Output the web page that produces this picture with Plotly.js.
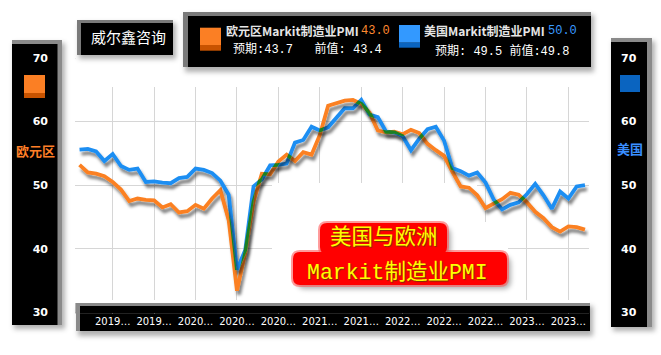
<!DOCTYPE html>
<html><head><meta charset="utf-8">
<script src="https://cdn.plot.ly/plotly-3.0.1.min.js"></script>
<style>
html,body{margin:0;padding:0;background:#fff;}
#chart{width:661px;height:355px;}
.scatterlayer .trace{filter:url(#ds);}
.scatterlayer .trace:nth-of-type(2){mix-blend-mode:darken;}
</style></head><body>
<svg width="0" height="0" style="position:absolute">
<defs>
<filter id="ds" x="-10%" y="-10%" width="120%" height="130%">
<feDropShadow dx="2" dy="4" stdDeviation="1.6" flood-color="#000" flood-opacity="0.5"/>
</filter>
<filter id="blur" x="-50%" y="-50%" width="200%" height="200%"><feGaussianBlur stdDeviation="2.5"/></filter>
</defs></svg>
<div id="chart"></div>
<script>
// ---------------- data ----------------
const months = [
 '2018-09','2018-10','2018-11','2018-12',
 '2019-01','2019-02','2019-03','2019-04','2019-05','2019-06','2019-07','2019-08','2019-09','2019-10','2019-11','2019-12',
 '2020-01','2020-02','2020-03','2020-04','2020-05','2020-06','2020-07','2020-08','2020-09','2020-10','2020-11','2020-12',
 '2021-01','2021-02','2021-03','2021-04','2021-05','2021-06','2021-07','2021-08','2021-09','2021-10','2021-11','2021-12',
 '2022-01','2022-02','2022-03','2022-04','2022-05','2022-06','2022-07','2022-08','2022-09','2022-10','2022-11','2022-12',
 '2023-01','2023-02','2023-03','2023-04','2023-05','2023-06','2023-07','2023-08','2023-09','2023-10'];
const euroPMI = [53.2, 52.0, 51.8, 51.4,
 50.5, 49.3, 47.5, 47.9, 47.7, 47.6, 46.5, 47.0, 45.7, 45.9, 46.9, 46.3,
 47.9, 49.2, 44.5, 33.4, 39.4, 47.4, 51.8, 51.7, 53.7, 54.8, 53.8, 55.2,
 54.8, 57.9, 62.5, 62.9, 63.3, 63.4, 62.8, 61.4, 58.6, 58.3, 58.4, 58.0,
 58.7, 58.2, 56.5, 55.5, 54.6, 52.1, 49.8, 49.6, 48.4, 46.4, 47.1, 47.8,
 48.8, 48.5, 47.3, 45.8, 44.8, 43.4, 42.7, 43.5, 43.4, 43.0];
const usPMI = [55.6, 55.7, 55.3, 53.8,
 54.9, 53.0, 52.4, 52.6, 50.5, 50.6, 50.4, 50.3, 51.1, 51.3, 52.6, 52.4,
 51.9, 50.7, 48.5, 36.7, 39.8, 49.8, 50.9, 53.1, 53.2, 53.4, 56.7, 57.1,
 59.2, 58.6, 59.1, 60.5, 62.1, 62.1, 63.4, 61.1, 60.7, 58.4, 58.3, 57.7,
 55.5, 57.3, 58.8, 59.2, 57.0, 52.7, 52.2, 51.5, 52.0, 50.4, 47.7, 46.2,
 46.9, 47.3, 48.6, 50.2, 48.4, 46.3, 49.0, 47.9, 49.8, 50.0];
const gridMonths = ['2019-01','2019-06','2019-11','2020-04','2020-09','2021-02','2021-07','2021-12','2022-05','2022-10','2023-03','2023-08'];
const xTickLabels = ['2019…','2019…','2020…','2020…','2020…','2021…','2021…','2022…','2022…','2022…','2023…','2023…'];
const yTicks = [30, 40, 50, 60, 70];
const euroName = '欧元区Markit制造业PMI', usName = '美国Markit制造业PMI';
const euroLatest = '43.0', usLatest = '50.0';
const euroSub = '预期:43.7   前值: 43.4', usSub = '预期: 49.5 前值:49.8';
const captionTop = '美国与欧洲';
const captionBottom = 'Markit<span style="font-family:Noto Sans CJK SC">制造业</span>PMI';

// ---------------- geometry helpers ----------------
const W = 661, H = 355;
const X = p => p / W, Y = p => 1 - p / H;
const XD = [75.4, 589.1];          // x domain in px
const YD = [56.73, 313.57];        // y domain in px (top, bottom)
const YR = [29.8, 70.2];
const XR = [-0.5, 61.5];
const idx = px => XR[0] + (px - XD[0]) / (XD[1] - XD[0]) * (XR[1] - XR[0]);
const val = py => YR[0] + (YD[1] - py) / (YD[1] - YD[0]) * (YR[1] - YR[0]);

const ORANGE = '#fb8020', BLUE = '#1e8ef2';

function rect(x0, y0, x1, y1, color, layer) {
  return {type:'rect', xref:'paper', yref:'paper', x0:X(x0), x1:X(x1), y0:Y(y1), y1:Y(y0),
          fillcolor:color, line:{width:0}, layer:layer || 'below'};
}
function drect(x0, y0, x1, y1, color) {
  return {type:'rect', xref:'x', yref:'y', x0:idx(x0), x1:idx(x1), y0:val(y1), y1:val(y0),
          fillcolor:color, line:{width:0}, layer:'between'};
}
function rrect(x0, y0, x1, y1, r, color, layer) {
  const p = (x, y) => X(x).toFixed(5) + ',' + Y(y).toFixed(5);
  const path = 'M' + p(x0 + r, y0) + ' L' + p(x1 - r, y0) + ' Q' + p(x1, y0) + ' ' + p(x1, y0 + r) +
    ' L' + p(x1, y1 - r) + ' Q' + p(x1, y1) + ' ' + p(x1 - r, y1) + ' L' + p(x0 + r, y1) +
    ' Q' + p(x0, y1) + ' ' + p(x0, y1 - r) + ' L' + p(x0, y0 + r) + ' Q' + p(x0, y0) + ' ' + p(x0 + r, y0) + ' Z';
  return {type:'path', xref:'paper', yref:'paper', path:path, fillcolor:color, line:{width:0}, layer:layer || 'above'};
}
const SH = 'rgba(0,0,0,0.31)';
const shapes = [
  // left axis box
  rect(14, 43, 65, 329, SH),
  rect(12, 40, 62, 325, '#8a8a8a'),
  rect(12, 44, 57.5, 325, '#000000'),
  rect(24, 75, 45, 93, '#fb7f24'),
  rect(24, 93, 45, 98, '#c85300'),
  // right axis box
  rect(613, 41, 655, 331, SH),
  rect(611, 38, 652, 327, '#8a8a8a'),
  rect(611, 42, 647, 327, '#000000'),
  rect(620, 75, 640, 92, '#0a64c0'),
  // bottom axis box
  rect(78, 306, 593, 336, SH),
  rect(76, 303, 590, 331, '#8a8a8a'),
  rect(80, 306, 590, 331, '#000000'),
  // covers for grid (between gridlines and traces)
  drect(60, 40, 600, 87, '#ffffff'),
  drect(60, 300, 600, 303, '#ffffff'),
  drect(272, 183, 477, 300, '#ffffff'),
  drect(477, 222, 508, 300, '#ffffff'),
  drect(70, 303, 590, 320, '#8a8a8a'),
  drect(80, 306, 590, 320, '#000000'),
  // title box
  rect(79, 23, 176, 59, SH, 'above'),
  rect(77, 20, 173, 55, '#7a7a7a', 'above'),
  rect(81, 23, 173, 55, '#000000', 'above'),
  // legend box
  rect(185, 15, 594, 72, SH, 'above'),
  rect(183, 12, 591, 67, '#7a7a7a', 'above'),
  rect(188, 16, 591, 67, '#000000', 'above'),
  rect(200, 27.7, 221, 45, '#fb7f24', 'above'),
  rect(200, 45, 221, 50.7, '#c85300', 'above'),
  rect(399, 25, 420, 42.7, '#3399ff', 'above'),
  rect(399, 42.7, 420, 47.7, '#0a64c0', 'above'),
  // center caption blob
  rrect(324, 227, 451, 258, 8, SH),
  rrect(297, 256, 511, 289, 8, SH),
  rrect(318, 221, 449, 256, 9, 'rgba(255,90,90,0.6)'),
  rrect(291, 250, 509, 287, 9, 'rgba(255,90,90,0.6)'),
  rrect(320, 223, 447, 254, 7, '#ff0000'),
  rrect(293, 252, 507, 285, 7, '#ff0000')
];

function ann(x, y, text, font, xanchor) {
  return {xref:'paper', yref:'paper', x:X(x), y:Y(y), text:text, font:font, showarrow:false,
          xanchor:xanchor || 'left', yanchor:'middle', borderpad:0};
}
const cjk = 'Noto Sans CJK SC';
const capFont = {family:'Liberation Mono, ' + cjk, size:21.5, color:'#ffff00', shadow:'1px 1px 1px #7a3000'};
const annotations = [
  ann(128, 37, '威尔鑫咨询', {family:cjk, size:15, color:'#ffffff'}, 'center'),
  ann(225, 31, euroName, {family:cjk, size:12, color:'#e6e6e6', weight:700}),
  ann(360, 31, euroLatest, {family:'Liberation Mono', size:12, color:'#ff8a30'}),
  ann(232, 48.5, euroSub, {family:'Liberation Mono, ' + cjk, size:12, color:'#ffffff'}),
  ann(423, 31, usName, {family:cjk, size:12, color:'#e6e6e6', weight:700}),
  ann(547, 31, usLatest, {family:'Liberation Mono', size:12, color:'#3a9bff'}),
  ann(434, 51, usSub, {family:'Liberation Mono, ' + cjk, size:12, color:'#ffffff'}),
  ann(35, 150, '欧元区', {family:cjk, size:13, color:'#ff7f27', weight:700}, 'center'),
  ann(630, 148, '美国', {family:cjk, size:13, color:'#3a8fff', weight:700}, 'center'),
  ann(384, 237.5, captionTop, capFont, 'center'),
  ann(397, 269.5, captionBottom, capFont, 'center')
];

const tickFont = {family:'DejaVu Sans', size:11, color:'#ffffff', weight:700};
const data = [
  {x:months, y:euroPMI, type:'scatter', mode:'lines', line:{color:ORANGE, width:3.8}, hoverinfo:'skip'},
  {x:months, y:usPMI, type:'scatter', mode:'lines', line:{color:BLUE, width:3.8}, hoverinfo:'skip'},
  // empty trace so that the right-hand axis (美国) is drawn
  {x:[], y:[], type:'scatter', mode:'lines', yaxis:'y2', hoverinfo:'skip', showlegend:false}
];
const layout = {
  width:W, height:H, margin:{l:0, r:0, t:0, b:0}, showlegend:false,
  paper_bgcolor:'#ffffff', plot_bgcolor:'rgba(0,0,0,0)',
  xaxis:{type:'category', range:XR, domain:[X(XD[0]), X(XD[1])], tickmode:'array', tickvals:gridMonths,
         ticktext:xTickLabels, showgrid:true, gridcolor:'#d6d6d6', gridwidth:1, ticks:'', zeroline:false,
         showline:false, tickfont:{family:'DejaVu Sans', size:10, color:'#ffffff'}, anchor:'y'},
  yaxis:{range:YR, domain:[Y(YD[1]), Y(YD[0])], tickmode:'array', tickvals:yTicks, showgrid:true,
         gridcolor:'#d6d6d6', gridwidth:1, zeroline:false, showline:false, ticks:'', anchor:'free',
         position:X(48), side:'left', tickfont:tickFont},
  yaxis2:{range:YR, overlaying:'y', side:'right', anchor:'free', position:X(620), tickmode:'array',
          tickvals:yTicks, showgrid:false, zeroline:false, showline:false, ticks:'', tickfont:tickFont},
  shapes:shapes, annotations:annotations
};
Plotly.newPlot('chart', data, layout, {staticPlot:true, displayModeBar:false}).then(() => {
  document.querySelectorAll('.shapelayer path').forEach(p => {
    const fo = parseFloat(p.style.fillOpacity);
    if (Math.abs(fo - 0.31) < 0.002) p.style.filter = 'url(#blur)';
  });
});
</script>
</body></html>
